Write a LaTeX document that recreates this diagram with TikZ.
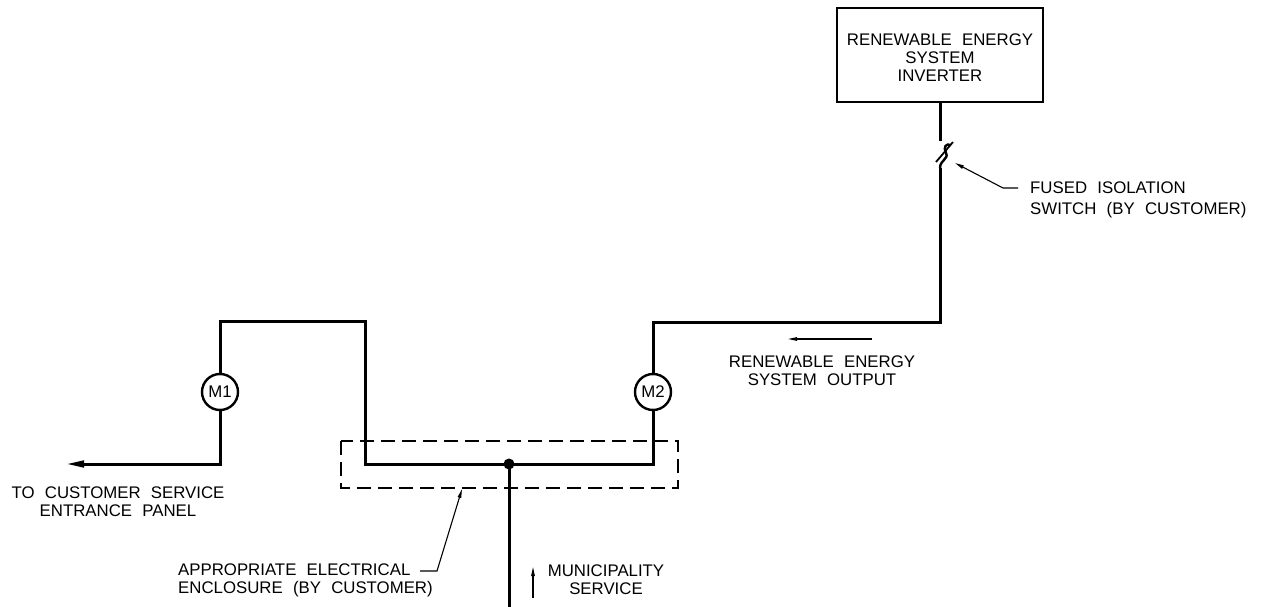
\documentclass[tikz,border=0pt]{standalone}
\usepackage{fontspec}
\setmainfont{Liberation Sans}[WordSpace=2.2]
\usetikzlibrary{arrows.meta}
\begin{document}
\begin{tikzpicture}[x=1pt,y=-1pt,
  wire/.style={line width=3pt, line join=miter},
  thinline/.style={line width=1.1pt},
  lbl/.style={inner sep=0pt, align=center, font=\fontsize{16.8}{18}\selectfont},
  meter/.style={circle, draw, line width=2.4pt, minimum size=36pt, inner sep=0pt, font=\fontsize{16.8}{18}\selectfont},
  bigtip/.style={-{Triangle[length=18pt,width=6.5pt]}},
  smalltip/.style={-{Triangle[length=9pt,width=3.5pt]}}]
\useasboundingbox (0,0) rectangle (1262,607);

% inverter
\node[draw, line width=2.4pt, minimum width=206pt, minimum height=94pt, inner sep=0pt] (inv) at (940,55) {};
\node[lbl] (invtxt) at (940,58) {RENEWABLE ENERGY\\SYSTEM\\INVERTER};

% switch
\coordinate (s1) at (940,141);
\coordinate (s2) at (940,168);
\draw[wire] (inv.south) -- (s1);
\draw[line width=1.8pt] (936,162) -- (953,142);
\draw[line width=2.4pt] (s2) .. controls (940,160) and (949,159) .. (946,153) .. controls (943,147) and (946,143) .. (951,145);

% fused leader
\coordinate (fl1) at (1018,188);
\coordinate (fl2) at (1003,188);
\coordinate (fltip) at (955,163);
\draw[thinline, smalltip] (fl1) -- (fl2) -- (fltip);
\node[lbl, align=left, anchor=west] (fusedtxt) at (1030,200) {FUSED ISOLATION\\[3pt]SWITCH (BY CUSTOMER)};

% meters
\node[meter] (m1) at (220,392) {M1};
\node[meter] (m2) at (653,392) {M2};

% junction
\coordinate (j) at (509,464);
\coordinate (jbot) at (509,607);

% wires
\coordinate (a1) at (940,322);
\coordinate (a2) at (653,322);
\draw[wire] (s2) -- (a1) -- (a2) -- (m2.north);
\coordinate (b1) at (653,464);
\coordinate (b2) at (365,464);
\coordinate (b3) at (365,321);
\coordinate (b4) at (220,321);
\draw[wire] (m2.south) -- (b1) -- (b2) -- (b3) -- (b4) -- (m1.north);
\coordinate (c1) at (220,464);
\coordinate (ctip) at (66,464);
\draw[wire, bigtip] (m1.south) -- (c1) -- (ctip);
\draw[wire] (j) -- (jbot);
\fill (j) circle (5.5pt);

% enclosure
\draw[thinline, dash pattern=on 14pt off 7pt] (341,441) rectangle (678,488);
\coordinate (e1) at (420,571);
\coordinate (e2) at (437,571);
\coordinate (etip) at (462,489);
\draw[thinline, smalltip] (e1) -- (e2) -- (etip);
\node[lbl, align=left, anchor=west] (enctxt) at (178,580) {APPROPRIATE ELECTRICAL\\ENCLOSURE (BY CUSTOMER)};

% municipality
\coordinate (mu1) at (533,598);
\coordinate (mu2) at (533,567);
\draw[thinline, smalltip] (mu1) -- (mu2);
\node[lbl] (mutxt) at (606,580) {MUNICIPALITY\\SERVICE};

% customer
\node[lbl] (custtxt) at (118,502) {TO CUSTOMER SERVICE\\ENTRANCE PANEL};

% output
\coordinate (o1) at (872,339);
\coordinate (o2) at (788,339);
\draw[thinline, smalltip] (o1) -- (o2);
\node[lbl] (outtxt) at (822,371) {RENEWABLE ENERGY\\SYSTEM OUTPUT};
\end{tikzpicture}
\end{document}
